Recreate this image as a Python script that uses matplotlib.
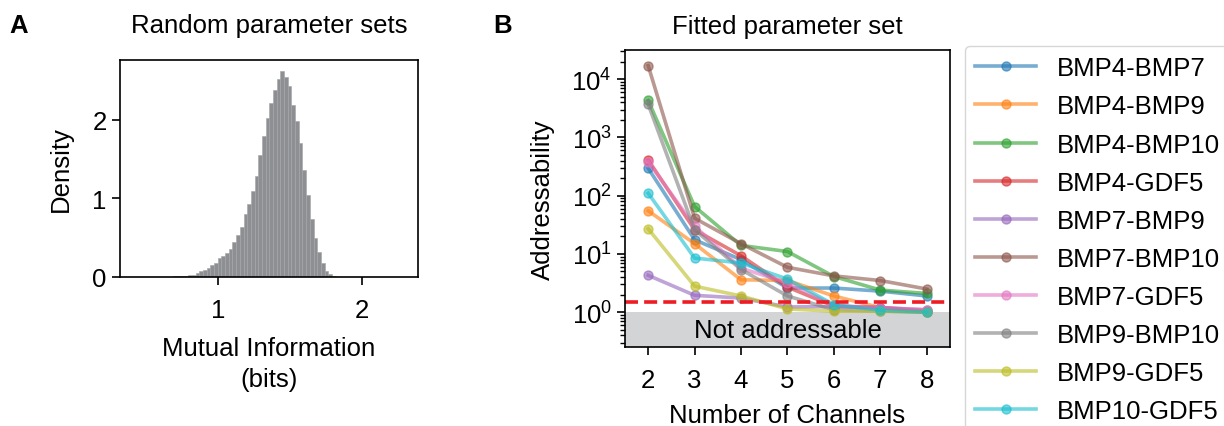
import numpy as np
import matplotlib
matplotlib.use("Agg")
import matplotlib.pyplot as plt

plt.rcParams['font.family'] = ['Liberation Sans', 'DejaVu Sans']
plt.rcParams['mathtext.fontset'] = 'custom'
plt.rcParams['mathtext.rm'] = 'Liberation Sans'
plt.rcParams['mathtext.it'] = 'Liberation Sans'
FS = 18.5

# ---------------- data ----------------
# Panel A: histogram of mutual information (bits)
hist_bin_start = 0.487
hist_bin_width = 0.0256
hist_density = [0.001, 0.001, 0.002, 0.002, 0.003, 0.004, 0.005, 0.006, 0.008, 0.010,
                0.012, 0.015, 0.02, 0.03, 0.045, 0.07, 0.09, 0.11, 0.15, 0.18,
                0.24, 0.27, 0.30, 0.36, 0.44, 0.53, 0.64, 0.80, 0.93, 1.10,
                1.29, 1.55, 1.80, 2.02, 2.22, 2.38, 2.52, 2.62, 2.55, 2.43,
                2.19, 1.99, 1.70, 1.36, 1.04, 0.74, 0.49, 0.32, 0.18, 0.08,
                0.035, 0.015, 0.005, 0.002]

# Panel B: addressability vs number of channels
channels = [2, 3, 4, 5, 6, 7, 8]
pairs = ["BMP4-BMP7", "BMP4-BMP9", "BMP4-BMP10", "BMP4-GDF5", "BMP7-BMP9",
         "BMP7-BMP10", "BMP7-GDF5", "BMP9-BMP10", "BMP9-GDF5", "BMP10-GDF5"]
bmp4_bmp7 = [295, 17.5, 8.0, 2.6, 2.6, 2.3, 1.9]
bmp4_bmp9 = [55, 15, 3.6, 3.5, 1.9, 1.2, 1.0]
bmp4_bmp10 = [4300, 65, 14, 11, 4.1, 2.4, 2.1]
bmp4_gdf5 = [410, 26, 9.3, 2.7, 1.27, 1.2, 1.05]
bmp7_bmp9 = [4.3, 1.95, 1.75, 1.23, 1.25, 1.2, 1.1]
bmp7_bmp10 = [17000, 41, 15, 5.9, 4.2, 3.5, 2.5]
bmp7_gdf5 = [380, 30, 5.7, 3.2, 1.3, 1.2, 1.1]
bmp9_bmp10 = [3700, 26, 5.4, 1.9, 1.1, 1.05, 1.0]
bmp9_gdf5 = [27, 2.8, 1.9, 1.14, 1.04, 1.04, 1.0]
bmp10_gdf5 = [110, 8.5, 7.0, 3.7, 1.35, 1.08, 1.0]
series = [bmp4_bmp7, bmp4_bmp9, bmp4_bmp10, bmp4_gdf5, bmp7_bmp9,
          bmp7_bmp10, bmp7_gdf5, bmp9_bmp10, bmp9_gdf5, bmp10_gdf5]
threshold = 1.5
not_addr_top = 1.0

# ---------------- figure ----------------
fig = plt.figure(figsize=(12.24, 4.27), dpi=100)

# Panel A
axA = fig.add_axes([0.098, 0.349, 0.2435, 0.508])
edges = hist_bin_start + hist_bin_width * np.arange(len(hist_density) + 1)
centers = (edges[:-1] + edges[1:]) / 2
axA.hist(centers, bins=edges, weights=hist_density, color='#8e8f93',
         edgecolor='#a3a4a7', linewidth=0.4)
axA.set_xlim(0.32, 2.39)
axA.set_ylim(0, 2.76)
axA.set_xticks([1, 2])
axA.set_yticks([0, 1, 2])
axA.set_xlabel("Mutual Information\n(bits)", fontsize=FS, linespacing=1.4,
               labelpad=10)
axA.set_ylabel("Density", fontsize=FS, labelpad=14)
axA.set_title("Random parameter sets", fontsize=FS, pad=20)
axA.tick_params(labelsize=FS, width=1.2, length=6)
axA.tick_params(axis='x', pad=9)
for s in axA.spines.values():
    s.set_linewidth(1.2)

# Panel B
axB = fig.add_axes([0.5106, 0.1843, 0.2655, 0.6963])
colors = plt.get_cmap('tab10').colors
for i, (name, vals) in enumerate(zip(pairs, series)):
    axB.plot(channels, vals, marker='o', color=colors[i], alpha=0.6,
             linewidth=2.6, markersize=6.5, label=name)
axB.set_yscale('log')
axB.set_ylim(0.25, 10 ** 4.5)
axB.set_xlim(1.5, 8.5)
axB.axhspan(0.25, not_addr_top, color='#d3d4d6', zorder=0, linewidth=0)
axB.axhline(threshold, color='#ee1c24', linestyle=(0, (3.6, 1.7)), linewidth=2.6)
axB.text(5, 0.5, "Not addressable", ha='center', va='center', fontsize=FS)
axB.set_xticks(channels)
axB.set_yticks([1, 10, 100, 1000, 10000])
axB.set_xlabel("Number of Channels", fontsize=FS, labelpad=8)
axB.set_ylabel("Addressability", fontsize=FS, labelpad=12)
axB.set_title("Fitted parameter set", fontsize=FS, pad=12)
axB.tick_params(labelsize=FS, width=1.2, length=6)
axB.tick_params(axis='x', pad=9)
axB.tick_params(which='minor', width=1.0, length=3.5)
for s in axB.spines.values():
    s.set_linewidth(1.2)

leg = axB.legend(loc='upper left', bbox_to_anchor=(0.788, 0.89),
                 bbox_transform=fig.transFigure, fontsize=FS,
                 handlelength=2.4, handletextpad=0.8, labelspacing=0.55,
                 borderpad=0.4, borderaxespad=0, frameon=True)

# Panel labels
fig.text(0.008, 0.94, "A", fontsize=FS, fontweight='bold', va='center')
fig.text(0.403, 0.94, "B", fontsize=FS, fontweight='bold', va='center')

fig.savefig("out.png", dpi=100)
